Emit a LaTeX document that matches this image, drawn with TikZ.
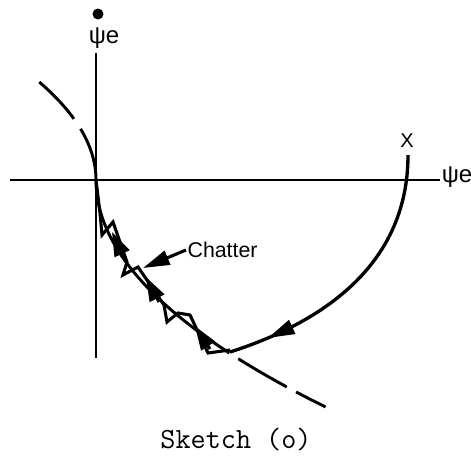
\documentclass[tikz,border=0pt]{standalone}
\usepackage{fontspec}
\setsansfont{Liberation Sans}
\usetikzlibrary{arrows.meta}

\begin{document}
\begin{tikzpicture}[x=0.75pt, y=0.75pt,
        axis/.style={line width=1.2pt},
        traj/.style={line width=2.5pt},
        switchline/.style={line width=2.2pt},
        chat/.style={line width=2.3pt, line join=miter},
        head/.style={-{Triangle[length=18pt,width=12pt]}, line width=2.3pt},
        lab/.style={font=\sffamily\fontsize{18}{18}\selectfont, inner sep=1pt}]
        \useasboundingbox (-96,-275) rectangle (375,180);

        % Draw axes
        \draw[axis] (-86,0) -- (344,0);
        \draw[axis] (0,-178) -- (0,127);
        \fill (2,166) circle (5.5);
        \node[lab] (psidot) at (8,142) {ψe};
        \node[lab] (psi) at (361,3) {ψe};

        % Switching curve, upper and lower branch
        \draw[switchline, dash pattern=on 38pt off 9pt on 41pt off 20pt]
            plot[domain=98:0, samples=40] ({-0.0059*(\x)*(\x)}, \x);
        \draw[switchline] plot[domain=0:-173, samples=60] ({0.00446*(\x)*(\x)}, \x);
        \draw[switchline, dash pattern=on 0pt off 8pt on 42pt off 8pt on 30pt off 20pt]
            plot[domain=-173:-227, samples=30] ({0.00446*(\x)*(\x)}, \x);

        % Trajectory from the start point
        \node[font=\sffamily\fontsize{15}{15}\selectfont, inner sep=1pt] (start) at (311,39) {X};
        \draw[traj] (312,25) .. controls (312,-80) and (234,-140) .. (134,-172);
        \draw[traj, -{Triangle[length=20pt,width=11pt]}] (196,-147) -- (172,-158);

        % Chatter along the switching curve
        \draw[chat] (0,0) -- (4,-33) -- (6,-55) -- (17,-42) -- (31,-82) -- (27,-95) -- (42,-87)
            -- (68,-125) -- (71,-142) -- (82,-133) -- (94,-135) -- (112,-173) -- (134,-170);
        \draw[head] (29,-80) -- (16,-52);
        \draw[head] (63,-122) -- (50,-97);
        \draw[head] (114,-169) -- (99,-146);

        \node[lab, font=\sffamily\fontsize{16}{16}\selectfont, anchor=west] (chatter) at (90,-70) {Chatter};
        \coordinate (chtip) at (47,-88);
        \draw[chat, -{Triangle[length=20pt,width=11pt]}] (chatter.west) -- (chtip);

        \node[font=\ttfamily\fontsize{22}{22}\selectfont] (caption) at (140,-260) {Sketch (o)};
\end{tikzpicture}
\end{document}
